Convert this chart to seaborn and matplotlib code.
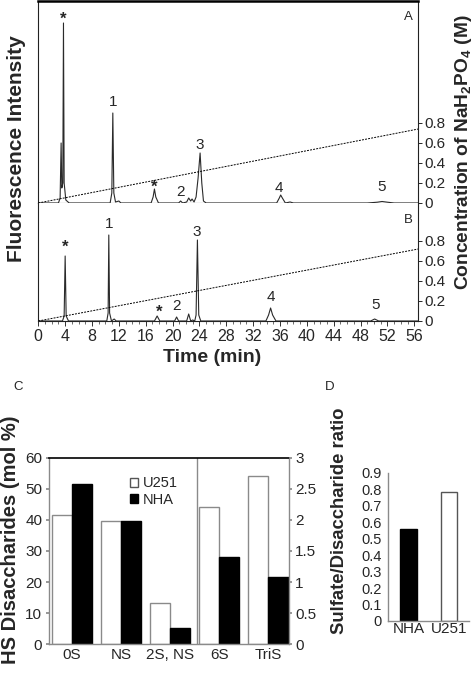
import pandas as pd
import seaborn as sns
import matplotlib.pyplot as plt
from matplotlib.patches import Patch
from matplotlib.ticker import MultipleLocator

# chromatogram A - vertices of the trace (time in min, fluorescence in arbitrary units)
tempo_a = [0, 3.0, 3.25, 3.4, 3.5, 3.65, 3.75, 3.85, 4.1, 4.6,
           10.7, 10.95, 11.1, 11.25, 11.5, 12.0, 12.3,
           16.8, 17.1, 17.3, 17.5, 17.9,
           20.9, 21.2, 21.5, 22.1, 22.4, 22.7, 22.9, 23.2, 23.5, 23.8, 24.1, 24.35, 24.6, 25.0,
           35.5, 35.9, 36.1, 36.35, 36.8, 37.5, 38.0,
           49.0, 50.5, 51.2, 52.0, 53.0, 56.6]
sinal_a = [0, 0, 5, 60, 15, 20, 180, 20, 3, 0,
           0, 10, 90, 10, 1, 2, 0,
           0, 6, 14, 6, 0,
           0, 2, 0, 1, 5, 2, 4, 1, 6, 25, 50, 20, 2, 0,
           0, 5, 8, 5, 0, 1, 0,
           0, 0.8, 1.5, 0.8, 0, 0]

# chromatogram B
tempo_b = [0, 3.6, 3.85, 4.0, 4.15, 4.5,
           10.2, 10.4, 10.5, 10.62, 10.9, 11.3, 11.6,
           17.3, 17.7, 18.1,
           20.3, 20.6, 20.9,
           22.1, 22.4, 22.7, 23.0, 23.3, 23.5, 23.7, 23.9, 24.2,
           33.9, 34.3, 34.6, 34.9, 35.4,
           49.5, 50.1, 50.7, 56.6]
sinal_b = [0, 0, 5, 65, 5, 0,
           0, 8, 86, 8, 0, 2, 0,
           0, 5, 0,
           0, 4, 0,
           0, 7, 0, 1, 0, 6, 81, 6, 0,
           0, 6, 13, 6, 0,
           0, 2, 0, 0]

# NaH2PO4 gradient (M)
grad_tempo = [0, 56.6]
grad_a = [0, 0.74]
grad_b = [0, 0.72]

# peak labels: text, time, height of the label
picos_a = [("*", 3.75, 184), ("1", 11.1, 101), ("*", 17.3, 16), ("2", 21.2, 11),
           ("3", 24.1, 58), ("4", 35.9, 15), ("5", 51.2, 16)]
picos_b = [("*", 4.0, 74), ("1", 10.5, 97), ("*", 18.0, 9), ("2", 20.6, 15),
           ("3", 23.6, 89), ("4", 34.6, 24), ("5", 50.2, 16)]

# HS disaccharide composition (mol %)
dissacarideos = ["0S", "NS", "2S, NS", "6S", "TriS"]
mol_u251 = [41.6, 39.7, 13.4, 44.0, 54.0]
mol_nha = [51.6, 39.7, 5.3, 28.0, 21.7]

# sulfate / disaccharide ratio
celulas_d = ["NHA", "U251"]
razao = [0.56, 0.78]

###########################################################################

sns.set_theme(style="white")
plt.rcParams["font.family"] = ["Liberation Sans", "DejaVu Sans"]
plt.rcParams["mathtext.fontset"] = "custom"
plt.rcParams["mathtext.rm"] = "Liberation Sans"
plt.rcParams["mathtext.bf"] = "Liberation Sans:bold"

W, H = 475, 676
fig = plt.figure(figsize=(W / 100, H / 100), dpi=100)


def eixo_px(left, top, right, bottom):
    return fig.add_axes([left / W, 1 - bottom / H, (right - left) / W, (bottom - top) / H])


def cromatograma(ax, tempo, sinal, ymax, grad, picos, letra, com_rotulos):
    sns.lineplot(x=tempo, y=sinal, ax=ax, color="#2a2a2a", lw=0.8, estimator=None, sort=False)
    ax.set_xlim(0, 56.6)
    ax.set_ylim(0, ymax)
    ax.set_yticks([])
    ax.set_ylabel("")
    ax.xaxis.set_major_locator(MultipleLocator(4))
    ax.xaxis.set_minor_locator(MultipleLocator(1))
    ax.tick_params(axis="x", which="major", bottom=True, length=3.5, width=0.7,
                   color="#333333", labelsize=11.5, pad=2, labelbottom=com_rotulos)
    ax.tick_params(axis="x", which="minor", bottom=True, length=2, width=0.6, color="#555555")
    for txt, t, y in picos:
        if txt == "*":
            ax.text(t, y, txt, ha="center", va="center", fontsize=12, fontweight="bold")
        else:
            ax.text(t, y, txt, ha="center", va="center", fontsize=11)
    ax.text(0.975, 0.92 if letra == "A" else 0.86, letra, transform=ax.transAxes,
            ha="center", va="center", fontsize=9.5)

    ax2 = ax.twinx()
    sns.lineplot(x=grad_tempo, y=grad, ax=ax2, color="black", lw=0.7, linestyle=(0, (2, 1.2)))
    ax2.set_ylim(0, ymax / 100)
    ax2.set_yticks([0, 0.2, 0.4, 0.6, 0.8])
    ax2.set_yticklabels(["0", "0.2", "0.4", "0.6", "0.8"])
    ax2.tick_params(axis="y", right=True, length=3, width=0.7, labelsize=11, pad=1.5)
    ax2.set_ylabel("")
    for sp in ax2.spines.values():
        sp.set_visible(False)
    for sp in ax.spines.values():
        sp.set_linewidth(0.8)
        sp.set_color("#222222")
    return ax2


ax_a = eixo_px(38.3, 1, 418.3, 203)
cromatograma(ax_a, tempo_a, sinal_a, 202, grad_a, picos_a, "A", False)
ax_a.spines["top"].set_linewidth(1.8)
ax_a.spines["top"].set_color("black")

ax_b = eixo_px(38.3, 203, 418.3, 321)
cromatograma(ax_b, tempo_b, sinal_b, 118, grad_b, picos_b, "B", True)
ax_b.spines["top"].set_visible(False)

fig.text(17 / W, 1 - 149 / H, "Fluorescence Intensity", rotation=90, ha="center",
         va="center", fontsize=15, fontweight="bold")
fig.text(463 / W, 1 - 152 / H, r"Concentration of NaH$_\mathbf{2}$PO$_\mathbf{4}$ (M)",
         rotation=90, ha="center", va="center", fontsize=13.8, fontweight="bold")
fig.text(212 / W, 1 - 358 / H, "Time (min)", ha="center", va="center",
         fontsize=14, fontweight="bold")

###########################################################################

# grafico C - composicao
df_c = pd.DataFrame({
    "dissacarideo": dissacarideos * 2,
    "mol": mol_u251 + mol_nha,
    "celula": ["U251"] * len(dissacarideos) + ["NHA"] * len(dissacarideos),
})
cores = {"U251": "white", "NHA": "black"}

ax_c = eixo_px(49.3, 457.7, 289, 644.3)
sns.barplot(data=df_c, x="dissacarideo", y="mol", hue="celula", hue_order=["U251", "NHA"],
            palette=cores, saturation=1, width=0.82, ax=ax_c, legend=False)
for p in ax_c.patches:
    if p.get_facecolor()[0] > 0.5:
        p.set_edgecolor("#8a8a8a")
    else:
        p.set_edgecolor("black")
    p.set_linewidth(1.0)
ax_c.set_xlim(-0.456, 4.42)
ax_c.set_ylim(0, 60)
ax_c.set_yticks(range(0, 61, 10))
ax_c.set_xlabel("")
ax_c.set_ylabel("")
ax_c.axvline(2.55, color="#8a8a8a", lw=1.0)
ax_c.tick_params(axis="x", labelsize=11, pad=3, length=0)
ax_c.tick_params(axis="y", left=True, length=2, color="#8a8a8a", labelsize=11, pad=3)
for lado in ["left", "right", "bottom"]:
    ax_c.spines[lado].set_color("#8a8a8a")
    ax_c.spines[lado].set_linewidth(1.0)
ax_c.spines["top"].set_color("black")
ax_c.spines["top"].set_linewidth(1.2)

ax_c2 = ax_c.twinx()
ax_c2.set_ylim(0, 3)
ax_c2.set_yticks([0, 0.5, 1, 1.5, 2, 2.5, 3])
ax_c2.set_yticklabels(["0", "0.5", "1", "1.5", "2", "2.5", "3"])
ax_c2.tick_params(axis="y", right=True, length=2, color="#8a8a8a", labelsize=11, pad=2.5)
for sp in ax_c2.spines.values():
    sp.set_visible(False)

ax_c.legend(handles=[Patch(facecolor="white", edgecolor="#555555", label="U251"),
                     Patch(facecolor="black", edgecolor="black", label="NHA")],
            loc="upper left", bbox_to_anchor=(0.28, 0.97), frameon=False, fontsize=10.5,
            handlelength=0.6, handleheight=0.6, handletextpad=0.3, labelspacing=0.15)

fig.text(11 / W, 1 - 540 / H, "HS Disaccharides (mol %)", rotation=90, ha="center",
         va="center", fontsize=14.5, fontweight="bold")
fig.text(18 / W, 1 - 387 / H, "C", ha="center", va="center", fontsize=9.5)

###########################################################################

# grafico D - razao sulfato
ax_d = eixo_px(388.3, 472.7, 469, 621)
sns.barplot(x=celulas_d, y=razao, hue=celulas_d, palette={"NHA": "black", "U251": "white"},
            saturation=1, width=0.41, ax=ax_d, legend=False)
for p in ax_d.patches:
    if p.get_facecolor()[0] > 0.5:
        p.set_edgecolor("#555555")
    else:
        p.set_edgecolor("black")
    p.set_linewidth(1.0)
ax_d.set_xlim(-0.5, 1.5)
ax_d.set_ylim(0, 0.9)
ax_d.set_yticks([0, 0.1, 0.2, 0.3, 0.4, 0.5, 0.6, 0.7, 0.8, 0.9])
ax_d.set_yticklabels(["0", "0.1", "0.2", "0.3", "0.4", "0.5", "0.6", "0.7", "0.8", "0.9"])
ax_d.tick_params(axis="y", length=0, labelsize=10.5, pad=5)
ax_d.tick_params(axis="x", length=0, labelsize=11, pad=1)
ax_d.spines["top"].set_visible(False)
ax_d.spines["right"].set_visible(False)
for lado in ["left", "bottom"]:
    ax_d.spines[lado].set_color("#8a8a8a")
    ax_d.spines[lado].set_linewidth(1.0)

fig.text(340 / W, 1 - 521 / H, "Sulfate/Disaccharide ratio", rotation=90, ha="center",
         va="center", fontsize=13.3, fontweight="bold")
fig.text(330 / W, 1 - 387 / H, "D", ha="center", va="center", fontsize=9.5)

plt.savefig("out.png", dpi=100)
